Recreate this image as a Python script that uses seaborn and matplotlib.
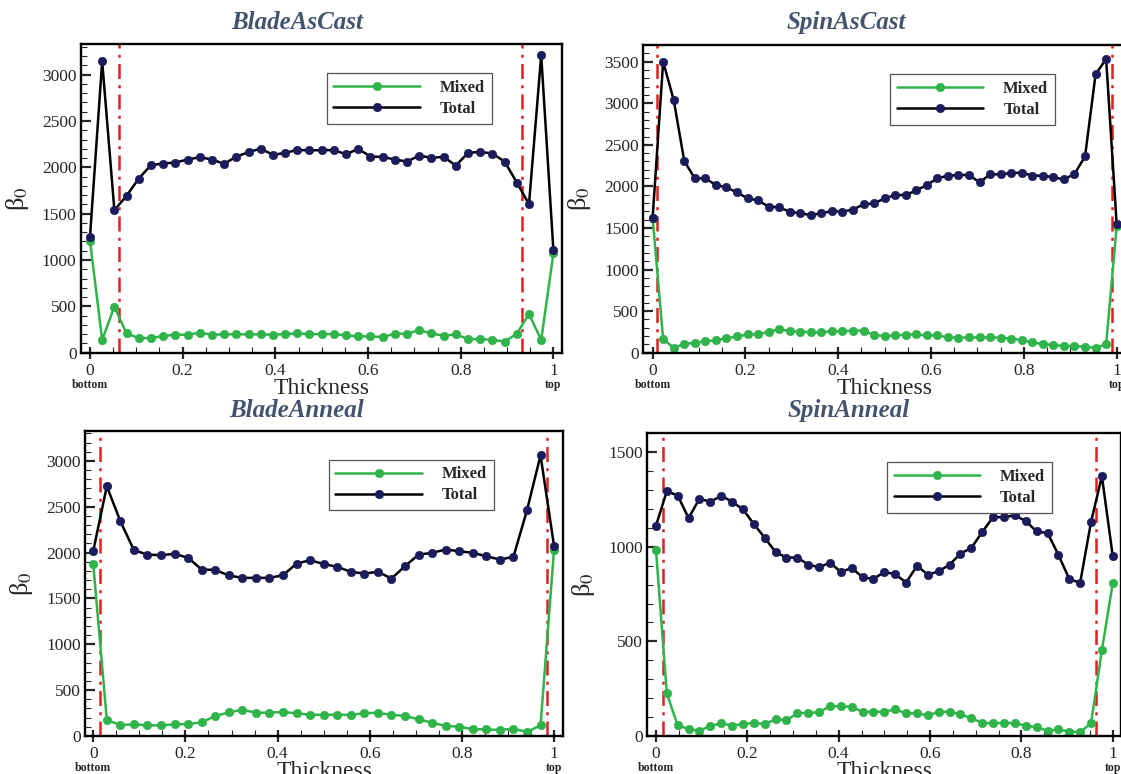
import matplotlib
matplotlib.use("Agg")
import matplotlib.pyplot as plt
import matplotlib.transforms as mtransforms
from matplotlib.ticker import MultipleLocator
import seaborn as sns
import pandas as pd
import numpy as np

# ---- data ----
titles = ["BladeAsCast", "SpinAsCast", "BladeAnneal", "SpinAnneal"]
series_names = ["Mixed", "Total"]
x_ticks = [0, 0.2, 0.4, 0.6, 0.8, 1]
x_tick_labels = ["0", "0.2", "0.4", "0.6", "0.8", "1"]

blade_cast_total = [1250, 3144, 1538, 1692, 1879, 2023, 2041, 2052, 2084, 2109,
                    2084, 2037, 2116, 2163, 2203, 2134, 2156, 2188, 2182, 2186,
                    2185, 2141, 2199, 2116, 2113, 2084, 2062, 2127, 2102, 2113,
                    2019, 2156, 2167, 2149, 2062, 1836, 1603, 3209, 1107]
blade_cast_mixed = [1207, 137, 496, 208, 158, 158, 180, 194, 194, 216,
                    194, 198, 198, 198, 198, 194, 201, 208, 200, 201,
                    201, 187, 176, 176, 169, 205, 205, 244, 208, 183,
                    198, 147, 147, 140, 119, 205, 417, 137, 1071]

spin_cast_total = [1624, 3500, 3039, 2305, 2097, 2097, 2017, 1988, 1928, 1856,
                   1832, 1756, 1748, 1696, 1676, 1656, 1676, 1704, 1696, 1722,
                   1784, 1796, 1856, 1896, 1896, 1952, 2017, 2097, 2129, 2137,
                   2137, 2049, 2145, 2145, 2161, 2165, 2129, 2129, 2109, 2085,
                   2149, 2361, 3348, 3532, 1543]
spin_cast_mixed = [1624, 160, 60, 104, 120, 136, 152, 172, 196, 220,
                   220, 253, 281, 261, 253, 245, 245, 257, 257, 265,
                   265, 212, 200, 208, 216, 220, 208, 208, 184, 180,
                   184, 184, 184, 180, 168, 152, 124, 104, 92, 80,
                   80, 72, 60, 100, 1523]

blade_anneal_total = [2019, 2724, 2343, 2027, 1979, 1972, 1987, 1943, 1816, 1812,
                      1751, 1725, 1725, 1725, 1754, 1881, 1918, 1876, 1845, 1791,
                      1772, 1791, 1718, 1852, 1979, 1998, 2034, 2016, 1998, 1961,
                      1925, 1954, 2462, 3062, 2070]
blade_anneal_mixed = [1874, 174, 120, 127, 116, 116, 127, 131, 149, 218,
                      258, 287, 254, 254, 262, 247, 232, 232, 232, 229,
                      251, 251, 232, 218, 182, 145, 109, 102, 73, 73,
                      65, 80, 44, 116, 2034]

spin_anneal_total = [1111, 1294, 1271, 1152, 1254, 1238, 1270, 1238, 1198, 1120,
                     1048, 972, 943, 943, 906, 892, 916, 867, 888, 839,
                     830, 867, 855, 811, 899, 853, 870, 906, 964, 994,
                     1078, 1157, 1157, 1166, 1136, 1081, 1073, 958, 830, 809,
                     1131, 1373, 950]
spin_anneal_mixed = [985, 225, 56, 37, 28, 53, 67, 55, 63, 70,
                     63, 88, 84, 120, 123, 125, 158, 157, 154, 128,
                     128, 128, 141, 120, 120, 109, 128, 128, 116, 93,
                     70, 67, 70, 67, 55, 46, 28, 35, 23, 21,
                     67, 454, 809]

# red dash-dot boundary positions
boundaries = [(0.063, 0.933), (0.010, 0.989), (0.015, 0.985), (0.015, 0.963)]
y_max = [3330, 3700, 3330, 1600]

totals = [blade_cast_total, spin_cast_total, blade_anneal_total, spin_anneal_total]
mixeds = [blade_cast_mixed, spin_cast_mixed, blade_anneal_mixed, spin_anneal_mixed]

# ---- style ----
sns.set_style("ticks")
plt.rcParams["font.family"] = ["Liberation Serif", "DejaVu Serif"]
plt.rcParams["mathtext.fontset"] = "stix"

green = "#2fb34a"
navy = "#1c1c5c"
title_color = "#45546e"

fig = plt.figure(figsize=(11.21, 7.74), dpi=100)

# axes rectangles (figure fractions) and x limits
rects = [
    [0.0720, 0.5443, 0.4291, 0.3988],
    [0.5739, 0.5443, 0.4297, 0.3975],
    [0.0758, 0.0491, 0.4267, 0.3944],
    [0.5774, 0.0491, 0.4226, 0.3911],
]
xlims = [(-0.020, 1.018), (-0.020, 1.018), (-0.018, 1.020), (-0.019, 1.018)]
title_pos = [(0.265, 0.971), (0.755, 0.971), (0.265, 0.470), (0.757, 0.470)]

for k in range(4):
    ax = fig.add_axes(rects[k])
    n = len(totals[k])
    df = pd.DataFrame({
        "thickness": np.linspace(0, 1, n),
        "Mixed": mixeds[k],
        "Total": totals[k],
    })

    sns.lineplot(data=df, x="thickness", y="Mixed", ax=ax, color=green,
                 lw=1.8, marker="o", markersize=6, markerfacecolor=green,
                 markeredgecolor=green, markeredgewidth=0.5, label="Mixed")
    sns.lineplot(data=df, x="thickness", y="Total", ax=ax, color="black",
                 lw=1.8, marker="o", markersize=6, markerfacecolor=navy,
                 markeredgecolor=navy, markeredgewidth=0.5, label="Total")

    for b in boundaries[k]:
        ax.axvline(b, color="#e02020", lw=1.8, ls=(0, (6, 2.5, 1.2, 2.5)), zorder=1)

    ax.set_xlim(*xlims[k])
    ax.set_ylim(0, y_max[k])
    ax.set_xticks(x_ticks)
    ax.set_xticklabels(x_tick_labels)
    ax.xaxis.set_minor_locator(MultipleLocator(0.05))
    ax.yaxis.set_major_locator(MultipleLocator(500))
    ax.yaxis.set_minor_locator(MultipleLocator(100))
    ax.tick_params(axis="x", which="major", direction="inout", length=9,
                   width=1.6, labelsize=12.5, pad=3)
    ax.tick_params(axis="y", which="major", direction="in", length=7,
                   width=1.6, labelsize=12.5, pad=3)
    ax.tick_params(which="minor", direction="in", length=4, width=0.8)
    ax.tick_params(top=False, right=False, which="both")
    for sp in ax.spines.values():
        sp.set_linewidth(1.7)
        sp.set_color("black")

    ax.set_xlabel("Thickness", fontsize=17, labelpad=-1)
    ax.set_ylabel("β$_0$", fontsize=19, labelpad=8)

    trans = mtransforms.blended_transform_factory(ax.transData, ax.transAxes)
    ax.text(0, -0.105, "bottom", transform=trans, ha="center", va="center",
            fontsize=8.5, fontweight="bold")
    ax.text(1, -0.105, "top", transform=trans, ha="center", va="center",
            fontsize=8.5, fontweight="bold")

    leg = ax.legend(loc="upper right", bbox_to_anchor=(0.872, 0.932),
                    handlelength=5.2, fancybox=False, framealpha=1,
                    edgecolor="#555555", borderpad=0.4, labelspacing=0.3,
                    handletextpad=1.2, prop={"weight": "bold", "size": 12})
    leg.get_frame().set_linewidth(0.9)

    fig.text(title_pos[k][0], title_pos[k][1], titles[k], ha="center",
             va="center", fontsize=18, fontweight="bold", style="italic",
             color=title_color)

plt.savefig("out.png", dpi=100)
